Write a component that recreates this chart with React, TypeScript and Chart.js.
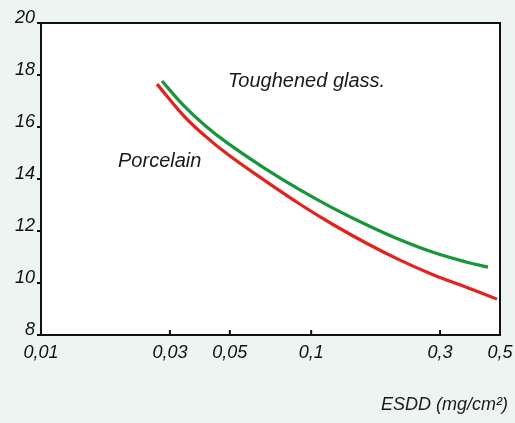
import React, { useEffect, useRef } from "react";
import { Chart, registerables } from "chart.js";

Chart.register(...registerables);

const xTickValues = [0.01, 0.03, 0.05, 0.1, 0.3, 0.5];
const yTickValues = [8, 10, 12, 14, 16, 18, 20];

const glassX = [0.02805, 0.03355, 0.04046, 0.04922, 0.0669, 0.09093, 0.1204, 0.1609, 0.2132, 0.2825, 0.3774, 0.4514];
const glassY = [17.77, 16.85, 16.06, 15.37, 14.43, 13.58, 12.88, 12.23, 11.66, 11.18, 10.8, 10.61];

const porcelainX = [0.02688, 0.03355, 0.04046, 0.04922, 0.0669, 0.09093, 0.1204, 0.1609, 0.2132, 0.2825, 0.3774, 0.4874];
const porcelainY = [17.65, 16.46, 15.66, 14.94, 13.96, 13.03, 12.25, 11.52, 10.88, 10.32, 9.83, 9.38];

const labels = [
  { text: "Toughened glass.", x: 0.04922, y: 17.77 },
  { text: "Porcelain", x: 0.01928, y: 14.69 },
];
const axisTitle = "ESDD (mg/cm²)";

const FONT = "'Liberation Sans', Arial, sans-serif";

const framePlugin = {
  id: "frame",
  beforeDraw(chart: any) {
    const { ctx, chartArea } = chart;
    ctx.save();
    ctx.fillStyle = "#ffffff";
    ctx.fillRect(chartArea.left, chartArea.top, chartArea.right - chartArea.left, chartArea.bottom - chartArea.top);
    ctx.restore();
  },
  afterDraw(chart: any) {
    const { ctx, chartArea, scales } = chart;
    const xs = scales.x;
    const ys = scales.y;
    ctx.save();
    ctx.strokeStyle = "#111";
    ctx.lineWidth = 2;
    ctx.strokeRect(chartArea.left, chartArea.top, chartArea.right - chartArea.left, chartArea.bottom - chartArea.top);
    for (const v of xTickValues) {
      const px = xs.getPixelForValue(v);
      ctx.beginPath();
      ctx.moveTo(px, chartArea.bottom);
      ctx.lineTo(px, chartArea.bottom - 5);
      ctx.stroke();
    }
    ctx.fillStyle = "#1a1a1a";
    ctx.font = `italic 20px ${FONT}`;
    ctx.textBaseline = "middle";
    ctx.textAlign = "left";
    for (const l of labels) {
      ctx.fillText(l.text, xs.getPixelForValue(l.x), ys.getPixelForValue(l.y));
    }
    ctx.font = `italic 18px ${FONT}`;
    ctx.textAlign = "right";
    ctx.fillText(axisTitle, chart.width - 7, 405);
    ctx.restore();
  },
};

export default function App() {
  const ref = useRef<HTMLCanvasElement | null>(null);
  useEffect(() => {
    if (!ref.current) return;
    const chart = new Chart(ref.current, {
      type: "line",
      data: {
        datasets: [
          {
            label: "Toughened glass",
            data: glassX.map((x, i) => ({ x, y: glassY[i] })),
            borderColor: "#17963a",
            borderWidth: 3.2,
            pointRadius: 0,
            tension: 0.4,
            fill: false,
          },
          {
            label: "Porcelain",
            data: porcelainX.map((x, i) => ({ x, y: porcelainY[i] })),
            borderColor: "#e3231b",
            borderWidth: 3.2,
            pointRadius: 0,
            tension: 0.4,
            fill: false,
          },
        ],
      },
      options: {
        animation: false,
        responsive: true,
        maintainAspectRatio: false,
        layout: { padding: { left: 0, right: 15, top: 23, bottom: 0 } },
        plugins: { legend: { display: false }, tooltip: { enabled: false } },
        scales: {
          x: {
            type: "logarithmic",
            min: 0.01,
            max: 0.5,
            afterBuildTicks: (scale: any) => {
              scale.ticks = xTickValues.map((v) => ({ value: v }));
            },
            afterFit: (scale: any) => {
              scale.height = 88;
              scale.paddingLeft = 0;
              scale.paddingRight = 0;
            },
            border: { display: true, color: "#111", width: 2 },
            grid: { display: true, drawOnChartArea: false, drawTicks: false },
            ticks: {
              autoSkip: false,
              maxRotation: 0,
              padding: 7,
              color: "#111",
              font: { family: FONT, size: 18, style: "italic" },
              callback: (v: any) => String(v).replace(".", ","),
            },
          },
          y: {
            min: 8,
            max: 20,
            afterBuildTicks: (scale: any) => {
              scale.ticks = yTickValues.map((v) => ({ value: v }));
            },
            afterFit: (scale: any) => {
              scale.width = 41;
            },
            border: { display: true, color: "#111", width: 2 },
            grid: { display: true, drawOnChartArea: false, drawTicks: true, tickLength: 4, color: "#111", lineWidth: 2 },
            ticks: {
              padding: 2,
              labelOffset: -5,
              color: "#111",
              font: { family: FONT, size: 18, style: "italic" },
            },
          },
        },
      },
      plugins: [framePlugin],
    } as any);
    return () => chart.destroy();
  }, []);
  return (
    <div style={{ position: "absolute", left: 0, top: 0, width: 515, height: 423, background: "#eef4f1" }}>
      <canvas ref={ref} />
    </div>
  );
}
